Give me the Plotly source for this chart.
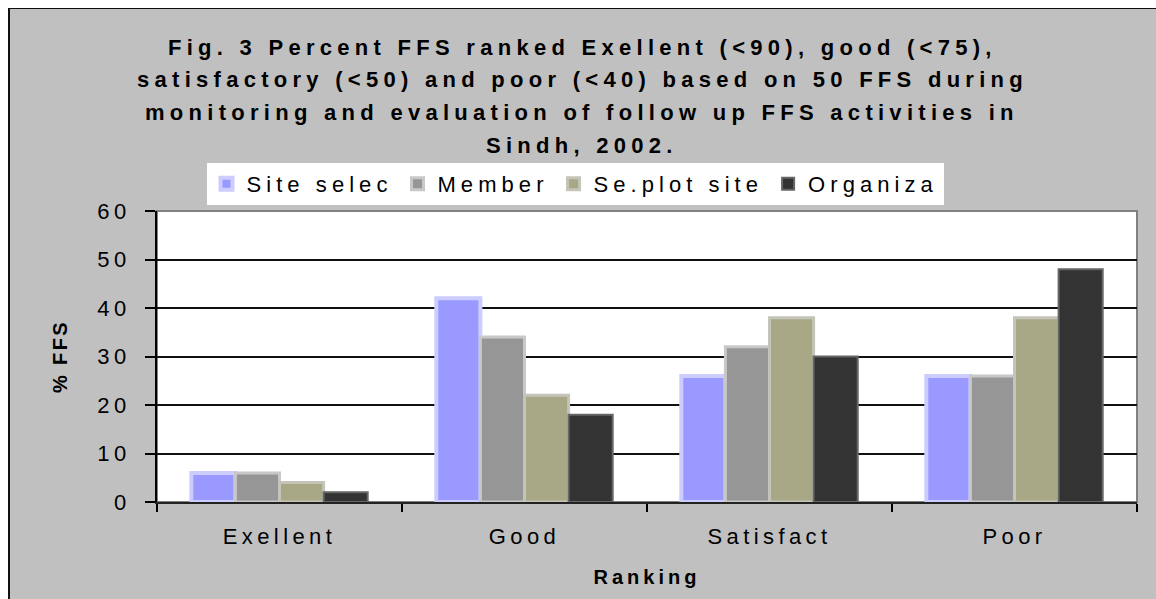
import plotly.graph_objects as go

categories = ["Exellent", "Good", "Satisfact", "Poor"]
site_selec = [6, 42, 26, 26]
member = [6, 34, 32, 26]
se_plot_site = [4, 22, 38, 38]
organiza = [2, 18, 30, 48]

title_lines = [
    "Fig. 3 Percent FFS ranked Exellent (<90), good (<75),",
    "satisfactory (<50) and poor (<40) based on 50 FFS during",
    "monitoring and evaluation of follow up FFS activities in",
    "Sindh, 2002.",
]

FONT = "Liberation Sans, Arial, sans-serif"

series = [
    ("Site selec", site_selec, "#9999FF", "#CCCCFF", 4),
    ("Member", member, "#969696", "#C8C8C8", 3),
    ("Se.plot site", se_plot_site, "#A8A886", "#C4C4B8", 3),
    ("Organiza", organiza, "#333333", "#666666", 2),
]

fig = go.Figure()
for name, vals, fill, edge, lw in series:
    fig.add_trace(go.Bar(
        x=categories, y=vals, name=name,
        marker=dict(color=fill, line=dict(color=edge, width=lw)),
    ))

# page has an 8px body margin; positions below are in page pixels of the reference
def px(x):
    return (x - 157) / 980

def py(y):
    return (502 - y) / 291

for i, line in enumerate(title_lines):
    fig.add_annotation(
        text="<b>" + line + "</b>", xref="paper", yref="paper",
        x=px(582), y=py(47 + 32.7 * i),
        showarrow=False, xanchor="center", yanchor="middle",
        font=dict(size=22, color="black"),
    )

# outer chart border: only its top and left edges are inside the window
fig.add_shape(type="line", xref="paper", yref="paper",
              x0=px(9), x1=px(1156), y0=py(8), y1=py(8),
              line=dict(color="#111111", width=2), layer="below")
fig.add_shape(type="line", xref="paper", yref="paper",
              x0=px(9), x1=px(9), y0=py(8), y1=py(599),
              line=dict(color="#111111", width=2), layer="below")
# plot area border, gray on top/right
fig.add_shape(type="rect", xref="paper", yref="paper",
              x0=0, x1=1, y0=0, y1=1,
              line=dict(color="#808080", width=2), layer="below")

fig.update_layout(
    width=1148, height=591,
    margin=dict(l=149, r=19, t=203, b=97),
    paper_bgcolor="#C0C0C0",
    plot_bgcolor="white",
    barmode="group",
    bargap=0.28,
    bargroupgap=0,
    font=dict(family=FONT, size=22, color="black"),
    legend=dict(
        orientation="h", x=px(575), xanchor="center",
        y=py(163), yanchor="top",
        bgcolor="white", font=dict(size=22),
        itemwidth=30, tracegroupgap=0,
    ),
    xaxis=dict(
        title=dict(text="<b>Ranking</b>", font=dict(size=20), standoff=22),
        tickson="boundaries", ticks="outside", ticklen=8,
        tickcolor="black", tickwidth=2,
        showline=True, linecolor="#222222", linewidth=2,
        tickfont=dict(size=22), ticklabelstandoff=14,
    ),
    yaxis=dict(
        title=dict(text="<b>% FFS</b>", font=dict(size=20), standoff=24),
        range=[0, 60], dtick=10,
        ticks="outside", ticklen=10, tickcolor="black", tickwidth=2,
        showline=True, linecolor="black", linewidth=2,
        showgrid=True, gridcolor="#111111", gridwidth=1.5,
        zeroline=False, tickfont=dict(size=22), ticklabelstandoff=10,
    ),
)

# the original uses widely spaced letters; add spacing and re-measure the text
spacing_js = """
var st = document.createElement('style');
st.textContent = 'html, body { overflow: hidden; } body { margin: 8px 0 0 8px; }'
  + ' svg text { letter-spacing: 0.2em; }'
  + ' svg text.annotation-text { letter-spacing: 0.24em; }'
  + ' svg text.legendtext { letter-spacing: 0.23em; }'
  + ' svg text.ytitle { letter-spacing: 0.12em; }';
document.head.appendChild(st);
var gd = document.getElementById('{plot_id}');
Plotly.relayout(gd, {'font.family': 'Liberation Sans, Arial'});
"""

fig.write_html("out.html", post_script=spacing_js)
